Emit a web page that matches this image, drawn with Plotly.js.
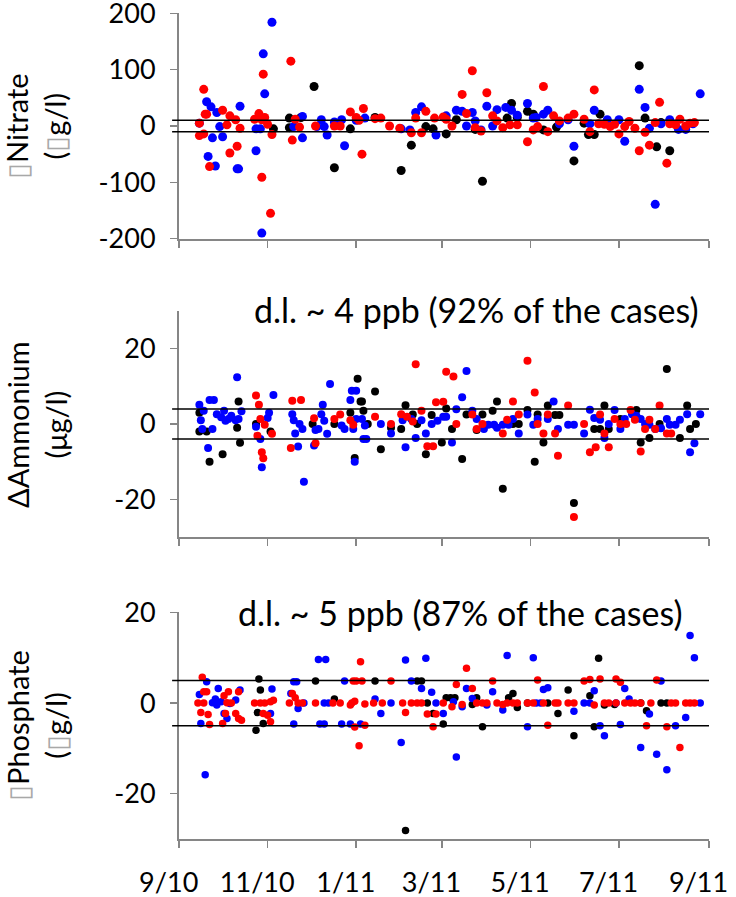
<!DOCTYPE html>
<html>
<head>
<meta charset="utf-8">
<script src="https://cdn.plot.ly/plotly-3.0.1.min.js"></script>
<style>html,body{margin:0;padding:0;background:#fff;}#chart{width:736px;height:897px;}</style>
</head>
<body>
<div id="chart"></div>
<script>
// Dates are days since 2010-09-01
const baseDate = '2010-09-01';
const xTickVals = ['2010-09-01','2010-11-01','2011-01-01','2011-03-01','2011-05-01','2011-07-01','2011-09-01'];
const xTickText = ['9/10','11/10','1/11','3/11','5/11','7/11','9/11'];
const nitTickVals = [-200, -100, 0, 100, 200];
const nitTickText = ['-200', '-100', '0', '100', '200'];
const ammTickVals = [-20, 0, 20];
const ammTickText = ['-20', '0', '20'];
const phoTickVals = [-20, 0, 20];
const phoTickText = ['-20', '0', '20'];
const limits = [10, 4, 5];

// Nitrate
const nitBlackDay = [65,76,76,84,93,107,118,135,153,160,170,175,184,191,204,209,226,229,233,240,244,251,260,272,279,282,286,290,317,321,329,332,338];
const nitBlackVal = [-5,14,-3,15,70,-74,-5,15,-79,-34,-1,-5,-14,11,-6,-98,14,40,15,26,21,-7,-2,-62,5,-15,-15,21,107,14,-37,6,-44];
const nitBlueDay = [14,19,20,22,23,25,26,28,30,40,41,42,53,53,56,57,58,59,64,79,85,85,95,98,100,102,107,112,114,122,128,153,159,163,167,177,184,191,195,198,202,204,208,212,216,219,225,229,233,240,244,246,251,254,262,268,272,283,286,295,303,307,317,321,324,328,332,338,344,349,354,359];
const nitBlueVal = [5,43,-54,34,-21,-71,24,-1,-19,-76,-76,35,-44,-5,-5,-190,128,57,184,-1,17,-21,-1,11,-1,-16,7,11,-35,10,14,-5,-7,24,34,-16,18,28,26,0,24,9,-7,35,0,29,33,28,19,40,14,15,21,28,4,11,-36,4,28,11,11,-27,65,33,-4,-139,4,11,-6,-6,4,57];
const nitRedDay = [14,14,17,17,18,19,21,30,33,35,35,39,40,42,52,55,57,57,58,59,61,63,64,77,78,80,83,94,107,111,118,122,124,126,127,135,139,145,152,160,163,167,170,176,182,184,188,195,198,202,204,208,212,216,219,223,228,233,240,244,247,251,254,258,262,268,272,279,283,286,289,293,297,300,303,307,310,314,317,321,324,328,331,336,338,342,345,349,352,355];
const nitRedVal = [5,-17,65,-14,21,21,-72,28,2,18,-48,11,-36,-4,12,22,11,-91,92,15,3,-155,-15,115,-25,12,-2,0,0,0,25,15,10,-50,31,13,14,0,-4,-12,14,-12,26,14,16,12,0,56,22,98,-3,-9,59,18,9,-3,2,2,-28,-7,-1,70,-10,18,9,14,21,12,-10,64,4,3,-1,3,-14,-1,8,-4,-44,-11,-34,6,42,-66,4,2,12,0,5,6];

// Ammonium
const ammBlackDay = [14,14,19,21,30,40,41,42,53,63,92,107,118,121,123,125,126,127,130,135,139,146,153,156,161,164,170,174,181,184,188,195,198,205,209,216,219,223,230,234,240,245,247,251,254,259,262,272,286,290,293,296,304,315,318,324,331,336,345,350,352,356];
const ammBlackVal = [3,-2,-2,-10,-8,-1,6,-5,0,-2,0,0,3,-9,12,6,6,3.5,0,8.6,-6.7,-1,-1.3,5,2.5,0,-8,2.4,-4.9,4.1,-1.3,-9.3,2.5,-1.6,2.5,3.5,6,-17.2,0,0,3.7,-10,2.5,-4.9,4.9,2.4,2.4,-21,-1.3,-1.3,4.9,-1.3,1.3,3.7,-4.9,-3.7,0,14.6,-3.7,4.9,-1.3,0];
const ammBlueDay = [14,15,16,17,20,21,23,24,26,29,31,32,34,36,39,40,41,43,53,56,57,61,62,65,78,79,80,82,83,85,86,93,94,96,98,99,100,102,104,112,114,118,119,120,121,122,122,126,127,128,129,139,146,154,156,160,163,167,170,174,178,182,184,188,191,195,198,202,205,210,213,217,219,223,227,230,234,240,244,247,254,258,261,268,272,279,283,286,290,293,296,300,304,307,312,315,318,321,324,328,332,336,338,342,345,350,352,355,359];
const ammBlueVal = [5.1,1,-1.3,3.5,-6.4,6.4,-1.3,6.4,2.6,1.8,3.5,0.9,1.3,2.2,1,12.4,1.3,3.4,-0.7,-4,-11.5,1.6,3,7.7,2.6,1,-2.5,-6,0,-1.3,-15.3,-5.7,-1.6,-1.3,2.6,5.1,0.9,-2.6,10.6,-0.4,-1.3,6.4,8.8,-1.3,-10,8.8,1.3,1.3,-4,-0.4,-4,0,-2.5,1,-6.2,1.3,-3.7,1,-2.5,0,0.9,1.9,1.9,-4.9,3.9,7.1,14.1,3.5,1.3,-1.3,-0.2,-0.2,-1,-0.2,-0.2,1.3,-2.5,2.5,-0.2,1.3,1.3,6,-1.3,-0.2,-0.2,-2.5,3.8,1.6,1.1,-3.7,0,3.7,-1.3,1.3,2.6,2.2,1.3,0,-0.2,-1.3,-1.1,1.3,-0.2,-0.2,1.1,2.6,-7.5,-5.1,2.6];
const ammRedDay = [53,54,55,56,57,58,59,64,77,78,84,93,94,107,111,118,120,135,146,153,157,161,163,167,171,175,177,182,184,189,191,202,205,209,223,226,230,234,240,245,247,251,254,259,261,268,272,279,283,287,290,293,296,300,304,308,311,314,318,321,324,328,331,336,339];
const ammRedVal = [7.6,-3.1,5.1,1.3,-7.5,-9.1,-0.2,-2.6,-6.4,6.2,6.4,1.5,-5.1,1.3,2.5,1,-0.2,1.9,0,2.6,1.9,0.7,15.9,3.5,-5.9,-5.9,5.8,5.9,13.9,12.6,0,2.5,-1.3,0,-2.5,1.1,6,2.5,16.8,8.4,0,-2.5,2.5,-2.5,-8.4,4.9,-24.7,0,-7.5,-6.2,2.5,-2.5,-6.2,1.3,0,0,3.7,1.1,-7.3,-1.3,1.1,-1.3,4.9,-2.5,-2.5];

// Phosphate
const phoBlackDay = [53,54,55,56,58,94,107,135,156,164,167,171,175,182,184,187,190,202,205,209,227,230,233,240,254,261,268,272,283,286,289,293,300,318,322,332,336];
const phoBlackVal = [-6,-2.1,5.3,2.9,-4.5,4.9,0.9,4.9,-28.1,4.9,4.9,0,-2.3,-4.6,1.2,1.2,1.2,-0.3,1.2,-5.2,1.2,2.1,-1,0,0,-2.3,2.9,-7.2,1.6,-5.2,9.9,-0.4,-0.3,0,-1.7,0,0];
const phoBlueDay = [14,15,18,19,23,25,26,27,29,31,33,35,39,42,63,64,77,79,79,81,82,86,96,97,100,100,101,103,112,114,118,125,135,139,146,153,156,160,167,170,174,177,182,189,191,195,198,202,212,216,223,226,240,244,246,249,251,254,272,279,283,286,290,293,301,304,307,310,318,324,329,332,336,342,349,352,355,359];
const phoBlueVal = [1.9,-4.5,-15.8,4.7,0.1,0.9,-0.4,3.2,0.3,-2.3,-3.4,-0.1,0.7,2.9,-2.3,3.1,2.1,4.7,-4.6,4.7,-1.2,0,9.6,-4.6,-4.6,0,9.6,0,-4.6,4.9,-4.6,-4.6,0.9,-2.3,0,-8.7,9.5,4.9,3.2,9.9,2.4,0,-2.3,0.3,-11.9,-0.8,3.2,1,-0.4,2.5,-1.5,10.5,-5.2,10,0,0,3,3.4,-1.8,0,0,2.7,-5,-7.2,0,-4.7,3.2,0.9,-9.8,-2.4,-11.3,4.9,-14.7,-5,-3.2,14.9,10,0];
const phoRedDay = [13,15,16,17,17,19,20,21,30,31,32,33,34,36,39,41,41,43,52,56,58,59,61,63,63,65,76,78,80,82,85,94,106,111,118,119,120,121,121,122,124,125,126,128,128,134,140,146,154,156,160,164,167,171,175,177,182,188,191,195,198,202,205,209,212,216,219,223,226,230,233,240,244,247,251,254,259,261,268,272,279,283,286,290,293,296,301,301,304,307,311,314,318,322,325,329,336,339,342,345,349,352,355];
const phoRedVal = [0,-2.1,5.7,2.5,0,2.5,-2.5,-4.7,-4.5,1.6,-2.3,0.1,2.5,0,-2.3,2.5,-3.4,-3.8,0,0,-2.3,0,-2.7,0.3,-4.1,0.6,0,2.1,1.2,0,0,0,0,0,-0.4,0,4.9,0.4,-5.3,4.9,-9.4,9.1,4.9,-0.2,-4.9,0,0,4.9,0,-2.1,0,0,0,-2.4,-5.2,-2.4,0,-0.8,4.1,-0.3,7.7,3.2,0,0,0,4.9,0,-0.3,0,0,0,0,0,5.1,0,-4.9,0,0,0,0,4.9,5.2,-0.4,5.3,0,0,0,5.3,4.6,0,0,0,0,-5,0,5.1,-5.2,0,0,-9.8,0,0,0];

const base = Date.parse(baseDate + 'T00:00:00Z');
function toDates(days) {
  return days.map(d => new Date(base + d * 86400000).toISOString().slice(0, 10));
}

const FONT = 'Lato, "Open Sans", "Liberation Sans", sans-serif';
const AXC = '#868686';

function tr(days, vals, color, xa, ya, size) {
  return { x: toDates(days), y: vals, type: 'scatter', mode: 'markers', xaxis: xa, yaxis: ya,
    marker: { color: color, size: size, line: { width: 0 } }, hoverinfo: 'x+y', showlegend: false };
}

const data = [
  tr(nitBlackDay, nitBlackVal, '#000000', 'x', 'y', 9),
  tr(nitBlueDay, nitBlueVal, '#0000ff', 'x', 'y', 9),
  tr(nitRedDay, nitRedVal, '#ff0000', 'x', 'y', 9),
  tr(ammBlackDay, ammBlackVal, '#000000', 'x2', 'y2', 8),
  tr(ammBlueDay, ammBlueVal, '#0000ff', 'x2', 'y2', 8),
  tr(ammRedDay, ammRedVal, '#ff0000', 'x2', 'y2', 8),
  tr(phoBlackDay, phoBlackVal, '#000000', 'x3', 'y3', 7.5),
  tr(phoBlueDay, phoBlueVal, '#0000ff', 'x3', 'y3', 7.5),
  tr(phoRedDay, phoRedVal, '#ff0000', 'x3', 'y3', 7.5)
];

const pad = '\u00A0\u00A0\u00A0';
function xAxis(anchor, labels) {
  return { type: 'date', range: ['2010-08-31 23:00', '2011-09-01 01:00'], anchor: anchor, matches: anchor === 'y' ? undefined : 'x',
    tickmode: 'array', tickvals: xTickVals, ticktext: xTickText.map(t => t + pad), showticklabels: labels,
    tickangle: 0, ticklabeloverflow: 'allow',
    ticks: 'outside', ticklen: 7, tickwidth: 1.5, tickcolor: AXC,
    showline: true, linecolor: AXC, linewidth: 2, showgrid: false, zeroline: false,
    tickfont: { family: FONT, size: 27, color: '#000' }, ticklabelstandoff: 12 };
}
function yAxis(domain, range, vals, text, anchor) {
  return { domain: domain, range: range, tickmode: 'array', tickvals: vals, ticktext: text, anchor: anchor,
    ticklabeloverflow: 'allow',
    ticks: 'outside', ticklen: 7, tickwidth: 1.5, tickcolor: AXC,
    showline: true, linecolor: AXC, linewidth: 2, showgrid: false, zeroline: false,
    tickfont: { family: FONT, size: 27, color: '#000' }, ticklabelstandoff: 9 };
}

function hline(yref, v) {
  return { type: 'line', xref: 'paper', x0: -0.013, x1: 1, yref: yref, y0: v, y1: v,
    line: { color: '#000', width: 1.5 }, layer: 'above' };
}

const box = '<span style="color:#a8a8a8">\u25AF</span>';
const layout = {
  width: 736, height: 897,
  margin: { l: 179, r: 27, t: 13, b: 58 },
  paper_bgcolor: '#fff', plot_bgcolor: '#fff',
  font: { family: FONT, color: '#000' },
  xaxis: xAxis('y', false),
  xaxis2: xAxis('y2', false),
  xaxis3: xAxis('y3', true),
  yaxis: yAxis([0.7264, 1], [-200.5, 200.5], nitTickVals, nitTickText, 'x'),
  yaxis2: yAxis([0.3656, 0.6392], [-30, 30], ammTickVals, ammTickText, 'x2'),
  yaxis3: yAxis([0, 0.2748], [-30, 20.1], phoTickVals, phoTickText, 'x3'),
  shapes: [
    hline('y', limits[0]), hline('y', -limits[0]),
    hline('y2', limits[1]), hline('y2', -limits[1]),
    hline('y3', limits[2]), hline('y3', -limits[2])
  ],
  annotations: [
    { text: box + 'Nitrate<br>(' + box + 'g/l)', xref: 'paper', yref: 'paper', x: -0.27, y: 0.8632,
      xanchor: 'center', yanchor: 'middle', textangle: -90, showarrow: false, font: { family: FONT, size: 29 } },
    { text: '\u0394Ammonium<br>(\u03BCg/l)', xref: 'paper', yref: 'paper', x: -0.27, y: 0.5024,
      xanchor: 'center', yanchor: 'middle', textangle: -90, showarrow: false, font: { family: FONT, size: 29 } },
    { text: box + 'Phosphate<br>(' + box + 'g/l)', xref: 'paper', yref: 'paper', x: -0.27, y: 0.138,
      xanchor: 'center', yanchor: 'middle', textangle: -90, showarrow: false, font: { family: FONT, size: 29 } },
    { text: 'd.l. ~ 4 ppb (92% of the cases)', xref: 'paper', yref: 'paper', x: 0.562, y: 0.6416,
      xanchor: 'center', yanchor: 'middle', showarrow: false, font: { family: FONT, size: 34 } },
    { text: 'd.l. ~ 5 ppb (87% of the cases)', xref: 'paper', yref: 'paper', x: 0.531, y: 0.2748,
      xanchor: 'center', yanchor: 'middle', showarrow: false, font: { family: FONT, size: 34 } }
  ]
};

Plotly.newPlot('chart', data, layout, { staticPlot: true, displayModeBar: false });
</script>
</body>
</html>
